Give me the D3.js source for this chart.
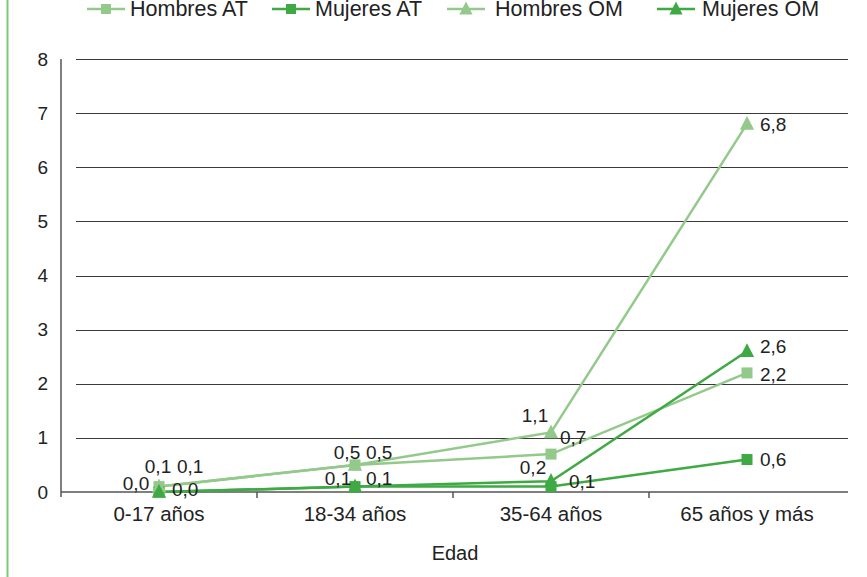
<!DOCTYPE html>
<html>
<head>
<meta charset="utf-8">
<script src="https://cdn.jsdelivr.net/npm/d3@7"></script>
<style>
  html, body { margin: 0; padding: 0; background: #fff; }
  svg { display: block; font-family: "Liberation Sans", Arial, sans-serif; }
</style>
</head>
<body>
<svg id="chart" width="867" height="577"></svg>
<script>
// Age groups and rates per series
const categories = ["0-17 años", "18-34 años", "35-64 años", "65 años y más"];
const hombresAT = [0.1, 0.5, 0.7, 2.2];
const mujeresAT = [0.0, 0.1, 0.1, 0.6];
const hombresOM = [0.1, 0.5, 1.1, 6.8];
const mujeresOM = [0.0, 0.1, 0.2, 2.6];
const yTicks = [0, 1, 2, 3, 4, 5, 6, 7, 8];
const xTitle = "Edad";

const series = [
  { name: "Hombres AT", values: hombresAT, color: "#93c98a", marker: "square" },
  { name: "Mujeres AT", values: mujeresAT, color: "#3fa944", marker: "square" },
  { name: "Hombres OM", values: hombresOM, color: "#93c98a", marker: "triangle" },
  { name: "Mujeres OM", values: mujeresOM, color: "#3fa944", marker: "triangle" }
];

// Label offsets (dx, dy, anchor) for each series' points
const labelOffsets = {
  "Hombres AT": [[18, -20, "start"], [11, -13, "start"], [9, -17, "start"], [13, 1, "start"]],
  "Mujeres AT": [[13, -3, "start"], [11, -8, "start"], [18, -5, "start"], [13, 0, "start"]],
  "Hombres OM": [[-1, -20, "middle"], [-8, -13, "middle"], [-16, -17, "middle"], [13, 0, "start"]],
  "Mujeres OM": [[-23, -9, "middle"], [-17, -8, "middle"], [-18, -14, "middle"], [13, -5, "start"]]
};

// Legend entry placement: line start and text start
const legendLayout = [[87, 130], [272, 315], [447, 495], [657, 702]];

const svg = d3.select("#chart");
const margin = { left: 61, right: 22, top: 59, bottom: 85 };
const W = 867, H = 577;

const x = d3.scaleBand().domain(categories).range([margin.left, W - margin.right]);
const y = d3.scaleLinear().domain([0, 8]).range([H - margin.bottom, margin.top]);

// Decorative vertical rule on the left edge
svg.append("line")
  .attr("x1", 7.5).attr("x2", 7.5).attr("y1", 0).attr("y2", H)
  .attr("stroke", "#7cc874").attr("stroke-width", 2);

// Horizontal gridlines
svg.append("g").selectAll("line")
  .data(yTicks.filter(d => d > 0))
  .join("line")
  .attr("x1", margin.left + 15).attr("x2", W - margin.right + 3)
  .attr("y1", d => Math.round(y(d)) + 0.5).attr("y2", d => Math.round(y(d)) + 0.5)
  .attr("stroke", "#3a3a3a").attr("stroke-width", 1);

// Y axis
const yAxis = svg.append("g")
  .attr("transform", `translate(${margin.left},0)`)
  .call(d3.axisLeft(y).tickValues(yTicks).tickSize(0).tickPadding(13));
yAxis.select(".domain").attr("stroke", "#555").attr("stroke-width", 1.5)
  .attr("d", `M0,${y(8)}V${y(0) + 5}`);
yAxis.selectAll("text").attr("font-size", 19).attr("fill", "#222")
  .attr("font-family", "'Liberation Sans', Arial, sans-serif");

// X axis
const xAxis = svg.append("g")
  .attr("transform", `translate(0,${y(0)})`)
  .call(d3.axisBottom(x).tickSize(0).tickPadding(14));
xAxis.select(".domain").attr("stroke", "#555").attr("stroke-width", 1.5)
  .attr("d", `M${margin.left},0H${W - margin.right + 3}`);
xAxis.selectAll("text").attr("font-size", 20.5).attr("fill", "#222");
// Separators between categories
xAxis.append("g").selectAll("line")
  .data(categories.slice(1))
  .join("line")
  .attr("x1", d => x(d)).attr("x2", d => x(d))
  .attr("y1", 0).attr("y2", 6)
  .attr("stroke", "#555").attr("stroke-width", 1.5);

svg.append("text")
  .attr("x", (margin.left + W - margin.right) / 2 + 2)
  .attr("y", 560)
  .attr("text-anchor", "middle")
  .attr("font-size", 20).attr("fill", "#222")
  .text(xTitle);

const cx = c => x(c) + x.bandwidth() / 2;
const line = d3.line().x((d, i) => cx(categories[i])).y(d => y(d));

function drawMarker(g, type, color, size) {
  if (type === "square") {
    g.append("rect")
      .attr("x", -size / 2).attr("y", -size / 2)
      .attr("width", size).attr("height", size)
      .attr("fill", color);
  } else {
    g.append("path")
      .attr("d", `M0,${-size * 0.62}L${size * 0.55},${size * 0.45}L${-size * 0.55},${size * 0.45}Z`)
      .attr("fill", color);
  }
}

// Lines
series.forEach(s => {
  svg.append("path")
    .datum(s.values)
    .attr("d", line)
    .attr("fill", "none")
    .attr("stroke", s.color)
    .attr("stroke-width", 2.5);
});

// Markers
series.forEach(s => {
  s.values.forEach((v, i) => {
    const g = svg.append("g").attr("transform", `translate(${cx(categories[i])},${y(v)})`);
    drawMarker(g, s.marker, s.color, s.marker === "square" ? 11 : 13);
  });
});

// Value labels
series.forEach(s => {
  s.values.forEach((v, i) => {
    const [dx, dy, anchor] = labelOffsets[s.name][i];
    svg.append("text")
      .attr("x", cx(categories[i]) + dx)
      .attr("y", y(v) + dy)
      .attr("dy", "0.35em")
      .attr("text-anchor", anchor)
      .attr("font-size", 19).attr("fill", "#222")
      .text(d3.format(".1f")(v).replace(".", ","));
  });
});

// Legend
series.forEach((s, i) => {
  const [lx, tx] = legendLayout[i];
  const g = svg.append("g").attr("transform", `translate(${lx},9)`);
  g.append("line").attr("x1", 0).attr("x2", 38).attr("y1", 0).attr("y2", 0)
    .attr("stroke", s.color).attr("stroke-width", 2.5);
  const m = g.append("g").attr("transform", "translate(19,0)");
  drawMarker(m, s.marker, s.color, s.marker === "square" ? 10 : 12);
  g.append("text").attr("x", tx - lx).attr("y", 6.5)
    .attr("font-size", 21.5).attr("fill", "#222").text(s.name);
});
</script>
</body>
</html>
